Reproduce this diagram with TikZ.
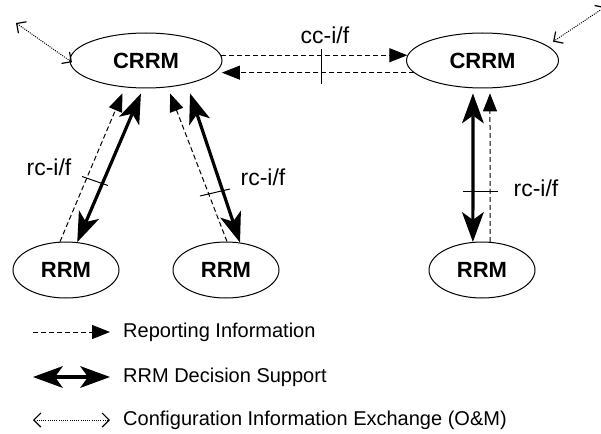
\documentclass[tikz,border=0pt]{standalone}
\usepackage{fontspec}
\setmainfont{Liberation Sans}
\usetikzlibrary{arrows.meta,shapes.geometric}
\tikzset{
  entity/.style={draw, ellipse, line width=1pt, inner sep=0pt, font=\fontsize{22}{26}\selectfont\bfseries},
  reporting/.style={line width=1pt, dash pattern=on 5pt off 3pt, -{Triangle[length=18pt,width=14pt]}},
  decision/.style={line width=3.2pt, {Stealth[length=30pt,width=22pt,inset=8pt,line width=0pt]}-{Stealth[length=30pt,width=22pt,inset=8pt,line width=0pt]}},
  config/.style={line width=1pt, dash pattern=on 1pt off 1.2pt, {Straight Barb[length=7pt,width=14pt,line width=1.2pt]}-{Straight Barb[length=7pt,width=14pt,line width=1.2pt]}},
  ifmark/.style={line width=1pt},
  lbl/.style={inner sep=0pt, font=\fontsize{23}{27}\selectfont},
  legtext/.style={inner sep=0pt, anchor=west, font=\fontsize{20}{24}\selectfont}
}
\begin{document}
\begin{tikzpicture}[x=1pt, y=-1pt]
    \useasboundingbox (0,0) rectangle (601,433);
    \node[entity, minimum width=152pt, minimum height=55pt] (crrmL) at (146,60.5) {CRRM};
    \node[entity, minimum width=152pt, minimum height=55pt] (crrmR) at (482.5,60.5) {CRRM};
    \node[entity, minimum width=106pt, minimum height=56pt] (rrmL) at (66,270) {RRM};
    \node[entity, minimum width=106pt, minimum height=56pt] (rrmM) at (226,270) {RRM};
    \node[entity, minimum width=106pt, minimum height=56pt] (rrmR) at (482,270) {RRM};

    \draw[reporting] (crrmL.4) -- (crrmR.176);
    \draw[reporting, shorten >=7pt] (crrmR.-170) -- (crrmL.-10);
    \coordinate (ccmark) at (321,66.5);
    \draw[ifmark] (ccmark) ++(0,-17.5) -- ++(0,35);
    \node[lbl] (ccLabel) at (325,35) {cc-i/f};

    \draw[reporting, shorten >=6.5pt] (rrmL.102) -- (crrmL.-128);
    \draw[decision, shorten >=5.5pt] (rrmL.68) -- (crrmL.-96);
    \coordinate (rcmarkL) at (95,181);
    \draw[ifmark] (rcmarkL) ++(-13,-4.5) -- ++(26,9);
    \node[lbl] (rcLabelL) at (49,167) {rc-i/f};

    \draw[reporting, shorten >=6.6pt] (rrmM.88) -- (crrmL.-51);
    \draw[decision, shorten >=9.8pt] (rrmM.63) -- (crrmL.-30);
    \coordinate (rcmarkM) at (215,192.5);
    \draw[ifmark] (rcmarkM) ++(-15,3.5) -- ++(30,-7);
    \node[lbl] (rcLabelM) at (263,177) {rc-i/f};

    \draw[decision, shorten >=5.2pt] (rrmR.108) -- (crrmR.-109);
    \draw[reporting, shorten >=5pt] (rrmR.74) -- (crrmR.-75);
    \coordinate (rcmarkR) at (480.5,191);
    \draw[ifmark] (rcmarkR) ++(-17.5,0) -- ++(35,0);
    \node[lbl] (rcLabelR) at (536,188) {rc-i/f};

    \coordinate (omL) at (16,23);
    \coordinate (omR) at (605,7);
    \draw[config, shorten >=-3pt] (omL) -- (crrmL.west);
    \draw[config, shorten >=7pt] (omR) -- (crrmR.13);

    \node[legtext] (legReport) at (123,332) {Reporting Information};
    \node[legtext] (legDecision) at (123,377) {RRM Decision Support};
    \node[legtext] (legConfig) at (123,420) {Configuration Information Exchange (O\&M)};
    \draw[reporting] ([xshift=-90pt]legReport.west) -- ([xshift=-13pt]legReport.west);
    \draw[decision] ([xshift=-90pt]legDecision.west) -- ([xshift=-13pt]legDecision.west);
    \draw[config] ([xshift=-90pt]legConfig.west) -- ([xshift=-13pt]legConfig.west);
\end{tikzpicture}
\end{document}
